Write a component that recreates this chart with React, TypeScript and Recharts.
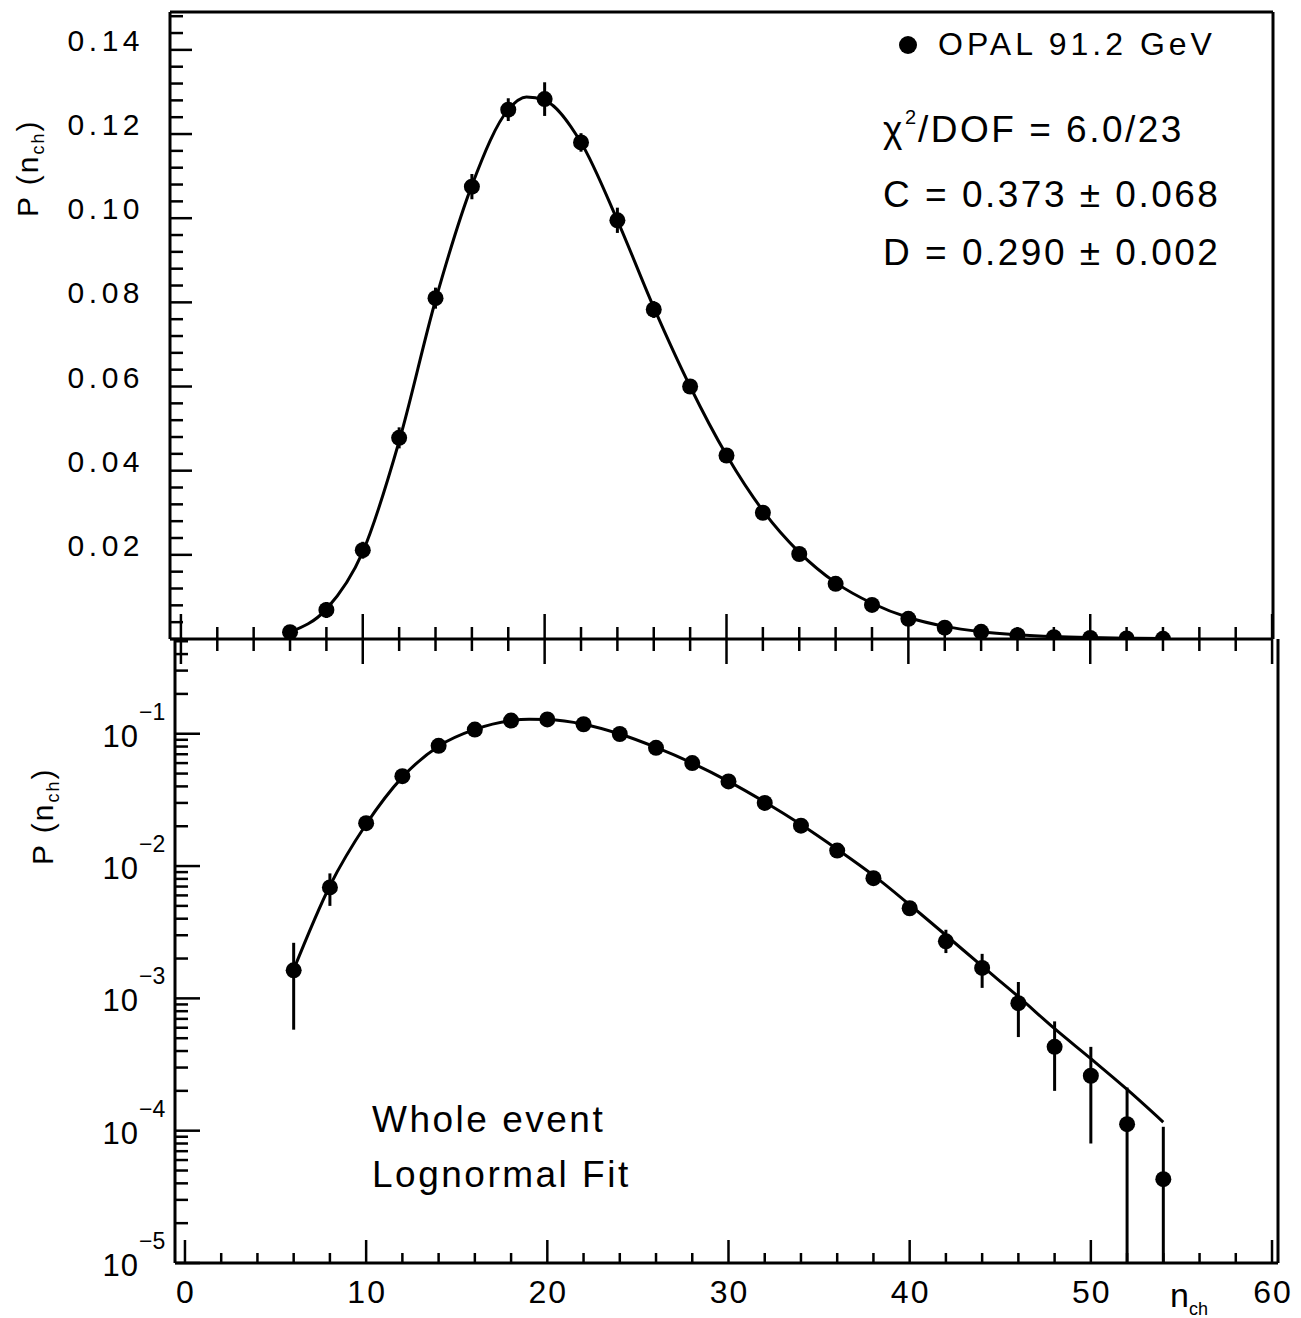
import React from 'react'
import { ComposedChart, Scatter, Line, XAxis, YAxis, ErrorBar } from 'recharts'

const FONT = '"Liberation Sans", Arial, Helvetica, sans-serif'

// OPAL 91.2 GeV charged multiplicity (even n only)
const nch = [6, 8, 10, 12, 14, 16, 18, 20, 22, 24, 26, 28, 30, 32, 34, 36, 38, 40, 42, 44, 46, 48, 50, 52, 54]
const prob = [0.00163, 0.0069, 0.0211, 0.0478, 0.081, 0.1075, 0.1258, 0.1283, 0.118, 0.0995, 0.0783, 0.06, 0.0436, 0.03, 0.0202, 0.0131, 0.0081, 0.0048, 0.0027, 0.0017, 0.00092, 0.00043, 0.00026, 0.000112, 0.000043]
const errMinus = [0.00105, 0.0019, 0.002, 0.0025, 0.0025, 0.003, 0.0027, 0.004, 0.0022, 0.003, 0.002, 0.0015, 0.0012, 0.001, 0.0008, 0.0006, 0.0005, 0.0004, 0.0005, 0.0005, 0.00041, 0.00023, 0.00018, 0.000102, 0.000033]
const errPlus = [0.001, 0.0019, 0.002, 0.0025, 0.0025, 0.003, 0.0027, 0.004, 0.0022, 0.003, 0.002, 0.0015, 0.0012, 0.001, 0.0008, 0.0006, 0.0005, 0.0004, 0.0006, 0.00047, 0.00041, 0.00024, 0.00017, 0.0001, 0.000064]

// lognormal fit curve
const fitN = [6, 8, 10, 12, 14, 16, 18, 19, 20, 22, 24, 26, 28, 30, 32, 34, 36, 38, 40, 42, 44, 46, 48, 50, 52, 54]
const fitP = [0.00165, 0.0071, 0.0207, 0.047, 0.0805, 0.1078, 0.1258, 0.1288, 0.128, 0.118, 0.0995, 0.0788, 0.06, 0.0437, 0.0305, 0.0206, 0.0134, 0.0085, 0.0051, 0.003, 0.00175, 0.00103, 0.00059, 0.00035, 0.000205, 0.000116]

const xLabels = [0, 10, 20, 30, 40, 50, 60]
const linLabels = [0.02, 0.04, 0.06, 0.08, 0.1, 0.12, 0.14]
const logDecades = [-5, -4, -3, -2, -1]

const points = nch.map((n, i) => ({ n, p: prob[i], err: [errMinus[i], errPlus[i]] }))
const fit = fitN.map((n, i) => ({ n, p: fitP[i] }))

const xTicks = Array.from({ length: 31 }, (_, i) => i * 2)
const linTicks = Array.from({ length: 38 }, (_, i) => +(i * 0.004).toFixed(3))
const logTicks: number[] = []
logDecades.forEach((e) => {
  for (let m = 1; m <= 9; m++) {
    const v = Number((m * Math.pow(10, e)).toPrecision(3))
    if (v <= 0.5) logTicks.push(v)
  }
})

const dot = (props: any) => <circle cx={props.cx} cy={props.cy} r={8} fill="#000" />

const TopXTick = (props: any) => {
  const { x, y, payload } = props
  const len = payload.value % 10 === 0 ? 25 : 12
  return <line x1={x} x2={x} y1={y - len} y2={y + len} stroke="#000" strokeWidth={2.5} />
}

const TopYTick = (props: any) => {
  const { x, y, payload } = props
  const v = payload.value
  const major = linLabels.some((l) => Math.abs(l - v) < 1e-6)
  return (
    <g>
      <line x1={x} x2={x + (major ? 22 : 13)} y1={y} y2={y} stroke="#000" strokeWidth={2.5} />
      {major && (
        <text x={144} y={y + 1} textAnchor="end" fontFamily={FONT} fontSize={30} letterSpacing={4.5} fill="#000">
          {v.toFixed(2)}
        </text>
      )}
    </g>
  )
}

const BottomXTick = (props: any) => {
  const { x, y, payload } = props
  const major = xLabels.includes(payload.value)
  return (
    <g>
      <line x1={x} x2={x} y1={y} y2={y - (major ? 23 : 10)} stroke="#000" strokeWidth={2.5} />
      {major && (
        <text x={x + 1} y={y + 40} textAnchor="middle" fontFamily={FONT} fontSize={32} letterSpacing={2} fill="#000">
          {payload.value}
        </text>
      )}
    </g>
  )
}

const LogYTick = (props: any) => {
  const { x, y, payload } = props
  const v = payload.value
  const e = Math.floor(Math.log10(v) + 1e-9)
  const major = Math.abs(v / Math.pow(10, e) - 1) < 1e-6
  return (
    <g>
      <line x1={x} x2={x + (major ? 25 : 13)} y1={y} y2={y} stroke="#000" strokeWidth={2.5} />
      {major && (
        <g fontFamily={FONT} fill="#000">
          <text x={139} y={y + 13} textAnchor="end" fontSize={31} letterSpacing={1}>10</text>
          <text x={139} y={y - 14} fontSize={23}>{'\u2212' + Math.abs(e)}</text>
        </g>
      )}
    </g>
  )
}

const axisLine = { stroke: '#000', strokeWidth: 3 }

export default function App() {
  return (
    <div style={{ position: 'absolute', left: 0, top: 0, width: 1301, height: 1318, background: '#fff' }}>
      <div style={{ position: 'absolute', left: 0, top: 0 }}>
        <ComposedChart width={1301} height={680} margin={{ top: 11, right: 27, bottom: 40, left: 0 }}>
          <XAxis dataKey="n" type="number" domain={[-0.6, 60.05]} allowDataOverflow ticks={xTicks} interval={0}
            tick={TopXTick} tickLine={false} tickSize={0} tickMargin={0} height={1} axisLine={axisLine} />
          <XAxis xAxisId="frame" orientation="top" type="number" domain={[0, 1]} tick={false} tickLine={false} height={1} axisLine={axisLine} />
          <YAxis dataKey="p" type="number" domain={[0, 0.149]} allowDataOverflow ticks={linTicks} interval={0}
            tick={TopYTick} tickLine={false} tickSize={0} tickMargin={0} width={170} axisLine={axisLine} />
          <YAxis yAxisId="frame" orientation="right" type="number" domain={[0, 1]} tick={false} tickLine={false} width={1} axisLine={axisLine} />
          <Line data={fit} dataKey="p" type="monotone" dot={false} stroke="#000" strokeWidth={3} isAnimationActive={false} />
          <Scatter data={points} dataKey="p" shape={dot} isAnimationActive={false}>
            <ErrorBar dataKey="err" direction="y" width={0} stroke="#000" strokeWidth={3} />
          </Scatter>
        </ComposedChart>
      </div>
      <div style={{ position: 'absolute', left: 0, top: 0 }}>
        <ComposedChart width={1301} height={1318} margin={{ top: 639, right: 22, bottom: 54, left: 0 }}>
          <XAxis dataKey="n" type="number" domain={[-0.55, 60.33]} allowDataOverflow ticks={xTicks} interval={0}
            tick={BottomXTick} tickLine={false} tickSize={0} tickMargin={0} height={1} axisLine={axisLine} />
          <YAxis dataKey="p" type="number" scale="log" domain={[1e-5, 0.52]} allowDataOverflow ticks={logTicks} interval={0}
            tick={LogYTick} tickLine={false} tickSize={0} tickMargin={0} width={175} axisLine={axisLine} />
          <YAxis yAxisId="frame" orientation="right" type="number" domain={[0, 1]} tick={false} tickLine={false} width={1} axisLine={axisLine} />
          <Line data={fit} dataKey="p" type="monotone" dot={false} stroke="#000" strokeWidth={3} isAnimationActive={false} />
          <Scatter data={points} dataKey="p" shape={dot} isAnimationActive={false}>
            <ErrorBar dataKey="err" direction="y" width={0} stroke="#000" strokeWidth={3} />
          </Scatter>
        </ComposedChart>
      </div>
      <svg width={1301} height={1318} style={{ position: 'absolute', left: 0, top: 0, pointerEvents: 'none' }} fontFamily={FONT} fill="#000">
        <text transform="translate(38,217) rotate(-90)" fontSize={30} letterSpacing={2}>
          P (n<tspan fontSize={18} dy={6}>ch</tspan><tspan fontSize={30} dy={-6}>)</tspan>
        </text>
        <text transform="translate(53,865) rotate(-90)" fontSize={30} letterSpacing={2}>
          P (n<tspan fontSize={18} dy={6}>ch</tspan><tspan fontSize={30} dy={-6}>)</tspan>
        </text>
        <circle cx={908} cy={45} r={9} />
        <text x={938} y={55} fontSize={32} letterSpacing={4}>OPAL 91.2 GeV</text>
        <text x={883} y={142} fontSize={37}>χ</text>
        <text x={905} y={124} fontSize={20}>2</text>
        <text x={918} y={142} fontSize={37} letterSpacing={2.5}>/DOF = 6.0/23</text>
        <text x={883} y={207} fontSize={37} letterSpacing={2.5}>C = 0.373 ± 0.068</text>
        <text x={883} y={265} fontSize={37} letterSpacing={2.5}>D = 0.290 ± 0.002</text>
        <text x={372} y={1132} fontSize={37} letterSpacing={2.5}>Whole event</text>
        <text x={372} y={1187} fontSize={37} letterSpacing={2.5}>Lognormal Fit</text>
        <text x={1170} y={1307} fontSize={34}>
          n<tspan fontSize={18} dy={8}>ch</tspan>
        </text>
      </svg>
    </div>
  )
}
